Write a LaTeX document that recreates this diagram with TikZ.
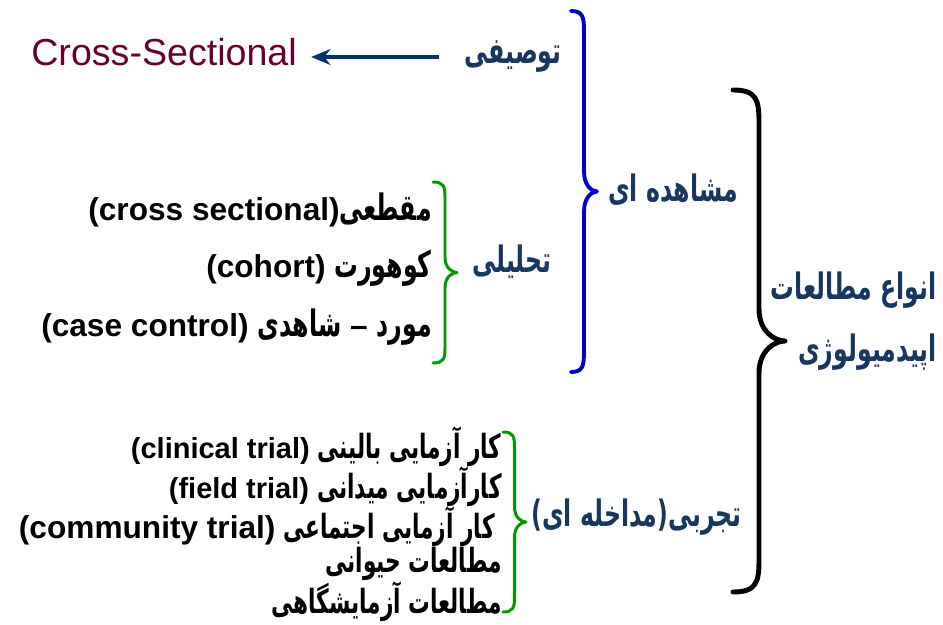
\documentclass[tikz,border=0pt]{standalone}
\usepackage{fontspec}
\setmainfont{Liberation Sans}
\newfontfamily\fa[Script=Arabic, FakeStretch=0.65, Scale=1.15]{DejaVu Sans}
\TeXXeTstate=1
\usetikzlibrary{arrows.meta,calc}
\definecolor{navy}{RGB}{23,55,94}
\definecolor{arrowblue}{RGB}{0,51,102}
\definecolor{maroon}{RGB}{102,0,51}
\definecolor{braceblue}{RGB}{0,0,204}
\definecolor{bracegreen}{RGB}{0,153,0}
\def\farsi#1{{\fa\beginR #1\endR}}
% right brace: x of the ends, top, bottom, width, hook
\def\rightbrace[#1](#2:#3:#4:#5:#6){\draw[#1] (#2,#3) .. controls ({#2+0.45*#5},#3) and ({#2+0.5*#5},{#3+0.3*#6}) .. ({#2+0.5*#5},{#3+#6}) -- ({#2+0.5*#5},{(#3+#4)/2-#6}) .. controls ({#2+0.5*#5},{(#3+#4)/2-0.3*#6}) and ({#2+0.8*#5},{(#3+#4)/2}) .. ({#2+#5},{(#3+#4)/2}) .. controls ({#2+0.8*#5},{(#3+#4)/2}) and ({#2+0.5*#5},{(#3+#4)/2+0.3*#6}) .. ({#2+0.5*#5},{(#3+#4)/2+#6}) -- ({#2+0.5*#5},{#4-#6}) .. controls ({#2+0.5*#5},{#4-0.3*#6}) and ({#2+0.45*#5},#4) .. (#2,#4);}

\begin{document}
\begin{tikzpicture}[x=0.02cm, y=-0.02cm,
		head/.style={font=\fa\bfseries\fontsize{18}{21}\selectfont, text=navy, inner sep=0pt},
		item/.style={font=\bfseries\fontsize{18}{21}\selectfont, anchor=east, inner sep=0pt},
		smallitem/.style={font=\bfseries\fontsize{16.5}{19}\selectfont, anchor=east, inner sep=0pt}]
			%%%%% START %%%%%
			\useasboundingbox (0,0) rectangle (943,625);
			
			\node[font=\fontsize{21.4}{25}\selectfont, text=maroon, anchor=west, inner sep=0pt] (cross) at (31, 52) {Cross-Sectional};
			\node[head] (tawsifi) at (513, 57) {\beginR توصیفی\endR};
			\draw[line width=2.4pt, color=arrowblue, -{Stealth[length=11pt, width=9pt]}, shorten <=14pt, shorten >=8pt] (tawsifi.west) -- (tawsifi.west -| cross.east);
			
			\node[head] (moshahede) at (673, 190) {\beginR مشاهده ای\endR};
			\node[head] (tahlili) at (512, 262) {\beginR تحلیلی\endR};
			\node[head, anchor=east] (types1) at (937, 290) {\beginR انواع مطالعات\endR};
			\node[head, anchor=east] (types2) at (937, 352) {\beginR اپیدمیولوژی\endR};
			\node[head, anchor=east] (tajrobi) at (742, 517) {\beginR تجربی(مداخله ای)\endR};
			
			\node[item] (maqtai) at (432, 210) {(cross sectional)\farsi{مقطعی}};
			\node[item] (cohort) at (432, 268) {(cohort) \farsi{کوهورت}};
			\node[item] (casecontrol) at (432, 327) {(case control) \farsi{شاهدی} – \farsi{مورد}};
			
			\node[smallitem] (clinical) at (502, 447) {(clinical trial) \farsi{کار آزمایی بالینی}};
			\node[smallitem] (field) at (502, 487) {(field trial) \farsi{کارآزمایی میدانی}};
			\node[smallitem] (community) at (495, 527) {{\fontsize{18}{21}\selectfont(community trial)} \farsi{کار آزمایی اجتماعی}};
			\node[smallitem] (animal) at (502, 564) {\farsi{مطالعات حیوانی}};
			\node[smallitem] (lab) at (502, 602) {\farsi{مطالعات آزمایشگاهی}};
			
			\rightbrace[line width=2.8pt, line cap=round, line join=round](733:90:592:52:32);
			\rightbrace[line width=2.2pt, color=braceblue, line cap=round, line join=round](571:11:372:26:20);
			\rightbrace[line width=1.7pt, color=bracegreen, line cap=round, line join=round](433:182:363:24:15);
			\rightbrace[line width=1.7pt, color=bracegreen, line cap=round, line join=round](503:432:612:23:15);
			%%%%% END %%%%%
\end{tikzpicture}
\end{document}
